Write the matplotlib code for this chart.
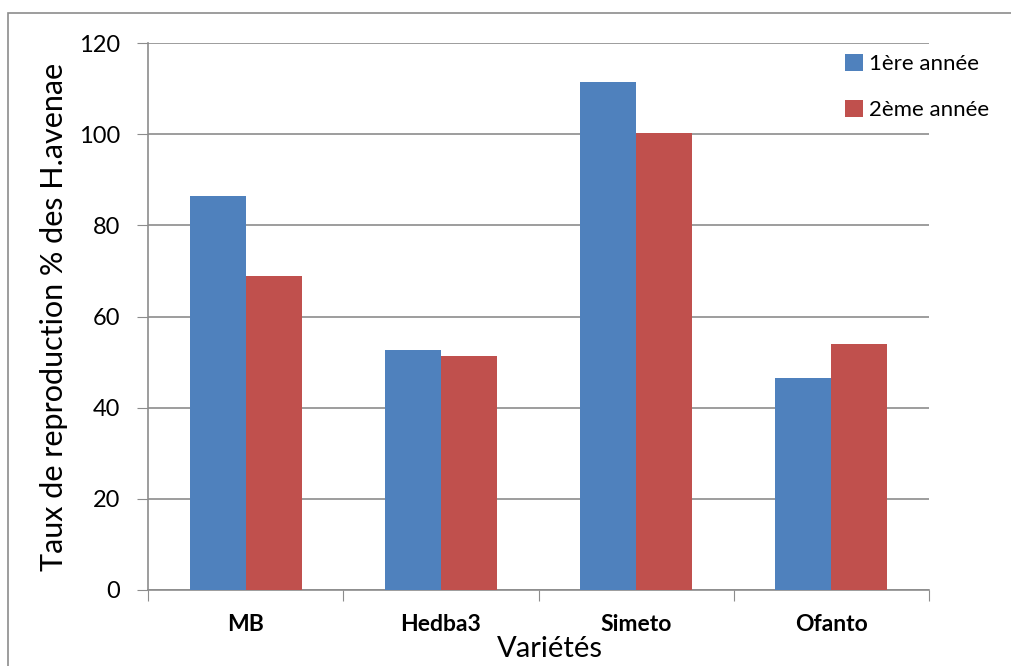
import numpy as np
import matplotlib.pyplot as plt
from matplotlib.patches import Rectangle

plt.rcParams['font.family'] = ['Lato', 'DejaVu Sans']

varietes = ["MB", "Hedba3", "Simeto", "Ofanto"]
annee1 = [86.4, 52.7, 111.4, 46.4]
annee2 = [68.9, 51.4, 100.2, 53.9]
series = ["1ère année", "2ème année"]
colors = ["#4F81BD", "#C0504D"]

fig = plt.figure(figsize=(10.11, 6.66), dpi=100)
# chart border (right/bottom edges run off the image)
fig.patches.append(Rectangle((8 / 1011, -0.05), 1.1, 1 - 13 / 666 + 0.05,
                             transform=fig.transFigure, fill=False,
                             edgecolor="#8c8c8c", linewidth=1.2))

ax = fig.add_axes([148 / 1011, 76 / 666, (929 - 148) / 1011, (590 - 43) / 666])

x = np.arange(len(varietes)) + 0.5
w = 0.287
ax.bar(x - w / 2, annee1, w, color=colors[0], label=series[0], zorder=3)
ax.bar(x + w / 2, annee2, w, color=colors[1], label=series[1], zorder=3)

ax.set_xlim(0, len(varietes))
ax.set_ylim(0, 120)
ax.set_yticks(range(0, 121, 20))
ax.set_xticks(np.arange(len(varietes) + 1), minor=False)
ax.set_xticklabels([])
ax.set_xticks(x, minor=True)
ax.set_xticklabels(varietes, minor=True, fontweight="bold", fontsize=16.5)
ax.tick_params(axis="x", which="minor", length=0, pad=17)
ax.tick_params(axis="x", which="major", length=8, color="#8c8c8c")
ax.tick_params(axis="y", length=8, color="#8c8c8c", labelsize=17, pad=12)

ax.grid(axis="y", color="#8c8c8c", linewidth=1.2, zorder=0)
for s in ["top", "right"]:
    ax.spines[s].set_visible(False)
for s in ["left", "bottom"]:
    ax.spines[s].set_color("#8c8c8c")
    ax.spines[s].set_linewidth(1.2)

ax.set_xlabel("Variétés", fontsize=21)
ax.xaxis.set_label_coords(0.515, -0.085)
ax.set_ylabel("Taux de reproduction % des H.avenae", fontsize=22, labelpad=8)

ax.legend(loc="upper left", bbox_to_anchor=(845 / 1011, 612 / 666),
          bbox_transform=fig.transFigure, frameon=False, fontsize=16,
          borderpad=0, borderaxespad=0,
          handlelength=0.8, handleheight=0.8, handletextpad=0.3,
          labelspacing=1.15)

fig.savefig("out.png", dpi=100)
